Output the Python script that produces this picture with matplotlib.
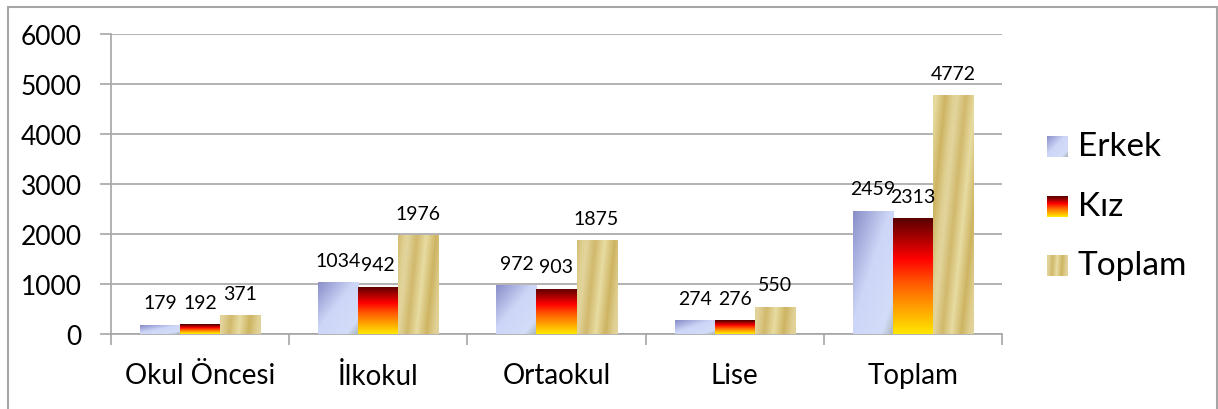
import numpy as np
import matplotlib
matplotlib.use("Agg")
import matplotlib.pyplot as plt
from matplotlib.colors import to_rgb
from matplotlib.patches import Rectangle

plt.rcParams['font.family'] = ['Lato', 'DejaVu Sans']

# data
categories = ['Okul Öncesi', 'İlkokul', 'Ortaokul', 'Lise', 'Toplam']
series_names = ['Erkek', 'Kız', 'Toplam']
erkek = [179, 1034, 972, 274, 2459]
kiz = [192, 942, 903, 276, 2313]
toplam = [371, 1976, 1875, 550, 4772]
yticks = [0, 1000, 2000, 3000, 4000, 5000, 6000]

GRID = '#a6a6a6'


def ramp(t, stops):
    pos = [p for p, c in stops]
    cols = np.array([to_rgb(c) for p, c in stops])
    out = np.zeros(t.shape + (3,))
    for k in range(3):
        out[..., k] = np.interp(t, pos, cols[:, k])
    return out


def erkek_fill(h_px, w_px=40):
    ny = max(int(h_px), 2)
    xn = np.linspace(0, 1, w_px)[None, :]
    yn = np.linspace(0, 1, ny)[:, None]
    t = (xn + (1 - yn)) / 2
    return ramp(t, [(0, '#8a8ec9'), (0.45, '#cdd6f7'), (0.85, '#d3dcf8'), (1, '#aab6bd')])


def kiz_fill(h_px, w_px=40):
    ny = max(int(h_px), 2)
    yn = np.linspace(0, 1, ny)[:, None] * np.ones((1, w_px))
    return ramp(yn, [(0, '#ffe600'), (0.25, '#ff9800'), (0.45, '#ff5500'),
                     (0.65, '#ff0000'), (0.85, '#a00000'), (1, '#5a0000')])


def gold_fill(h_px, w_px=40):
    ny = max(int(h_px), 2)
    xn = np.linspace(0, 1, w_px)[None, :]
    ypx = np.linspace(0, h_px, ny)[:, None]
    s = np.mod(xn - ypx * 0.0025, 1.0)
    return ramp(s, [(0, '#e2d49c'), (0.22, '#d1b96c'), (0.45, '#e8dca2'),
                    (0.7, '#cdb462'), (0.9, '#e0d093'), (1, '#e2d49c')])


fills = [erkek_fill, kiz_fill, gold_fill]

fig = plt.figure(figsize=(12.18, 4.10), dpi=100)
ax = fig.add_axes([111 / 1218, 75 / 410, 891 / 1218, 300 / 410])

x = np.arange(len(categories))
w = 0.2245
px_per_unit = 300 / 6000

for j, vals in enumerate([erkek, kiz, toplam]):
    xs = x + (j - 1) * w
    bars = ax.bar(xs, vals, width=w, color='none', edgecolor='none', zorder=3)
    for b, v in zip(bars, vals):
        img = fills[j](v * px_per_unit)
        x0 = b.get_x()
        im = ax.imshow(img, extent=(x0, x0 + w, 0, v), origin='lower',
                       aspect='auto', interpolation='bilinear', zorder=3)
        im.set_clip_path(b)
        ax.annotate(str(v), (b.get_x() + w / 2, v), xytext=(0, 12),
                    textcoords='offset points', ha='center', va='baseline',
                    fontsize=14, color='black', zorder=4)

ax.set_xlim(-0.5, len(categories) - 0.5)
ax.set_ylim(0, 6000)
ax.set_yticks(yticks)
ax.set_yticklabels([str(v) for v in yticks])
ax.yaxis.grid(True, color=GRID, linewidth=1.2, zorder=0)
ax.set_axisbelow(True)

# category boundaries get the tick marks, centres get the labels
ax.set_xticks(np.arange(len(categories) + 1) - 0.5)
ax.set_xticklabels([])
ax.set_xticks(x, minor=True)
ax.set_xticklabels(categories, minor=True, fontsize=20)
ax.tick_params(axis='x', which='major', length=8, color=GRID, width=1.2)
ax.tick_params(axis='x', which='minor', length=0, pad=20)
ax.tick_params(axis='y', length=8, color=GRID, width=1.2, pad=13, labelsize=19)

for side in ['top', 'right']:
    ax.spines[side].set_visible(False)
for side in ['left', 'bottom']:
    ax.spines[side].set_color(GRID)
    ax.spines[side].set_linewidth(1.2)

# legend with gradient swatches
leg_y = [147, 207, 266]
for name, fill, yc in zip(series_names, fills, leg_y):
    sw = fig.add_axes([1047 / 1218, 1 - (yc + 10.5) / 410, 21 / 1218, 21 / 410])
    sw.imshow(fill(21, 21), origin='lower', aspect='auto', interpolation='bilinear')
    sw.set_axis_off()
    fig.text(1078 / 1218, 1 - yc / 410, name, fontsize=24, va='center', ha='left')

# outer frame
fig.add_artist(Rectangle((8 / 1218, -0.02), 1209 / 1218, 1.01 - 4 / 410,
                         transform=fig.transFigure, fill=False,
                         edgecolor='#a6a6a6', linewidth=1.5))

fig.savefig('out.png', dpi=100)
